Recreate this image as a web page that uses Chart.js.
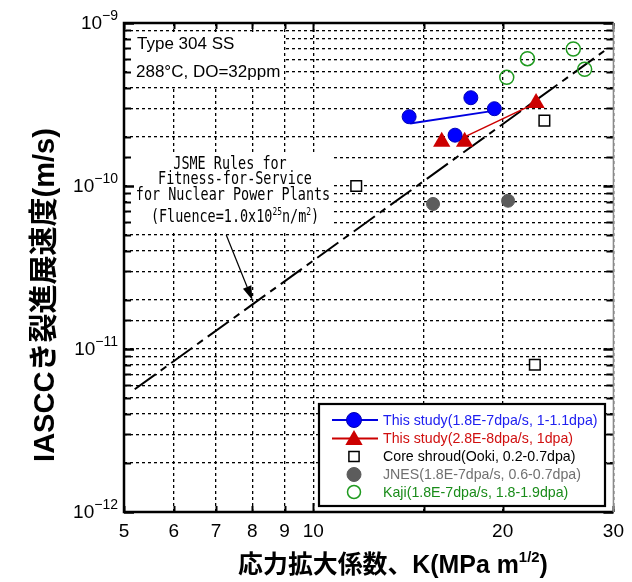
<!DOCTYPE html>
<html><head><meta charset="utf-8">
<script src="https://cdn.jsdelivr.net/npm/chart.js@4.4.0/dist/chart.umd.min.js"></script>
<style>html,body{margin:0;padding:0;background:#fff}canvas{display:block}</style>
</head><body>
<canvas id="c" width="632" height="582"></canvas>
<script>
// ---------------- data ----------------
const xTickValues = [5, 6, 7, 8, 9, 10, 20, 30];
const yMin = 1e-12, yMax = 1e-9;
const blueK = [14.2, 16.8, 17.8, 19.4];
const blueRate = [2.66e-10, 2.05e-10, 3.48e-10, 2.98e-10];
const blueFitK = [14.25, 19.2];
const blueFitRate = [2.42e-10, 2.88e-10];
const redK = [16.0, 17.4, 22.6];
const redRate = [1.87e-10, 1.87e-10, 3.23e-10];
const redFitK = [17.4, 22.1];
const redFitRate = [2.0e-10, 3.1e-10];
const shroudK = [11.7, 23.3, 22.5];
const shroudRate = [1.0e-10, 2.52e-10, 8.0e-12];
const jnesK = [15.5, 20.4];
const jnesRate = [7.76e-11, 8.12e-11];
const kajiK = [20.3, 21.9, 25.9, 27.0];
const kajiRate = [4.64e-10, 6.04e-10, 6.93e-10, 5.2e-10];
const jsmeK = [5.2, 29.0];
const jsmeRate = [5.66e-12, 6.73e-10];
const arrowK = [7.27, 8.0];
const arrowRate = [5.0e-11, 2.0e-11];
const legendLabels = [
  'This study(1.8E-7dpa/s, 1-1.1dpa)',
  'This study(2.8E-8dpa/s, 1dpa)',
  'Core shroud(Ooki, 0.2-0.7dpa)',
  'JNES(1.8E-7dpa/s, 0.6-0.7dpa)',
  'Kaji(1.8E-7dpa/s, 1.8-1.9dpa)'
];
const materialLabel = 'Type 304 SS';
const conditionLabel = '288°C, DO=32ppm';
const jsmeLines = ['JSME Rules for', 'Fitness-for-Service', 'for Nuclear Power Plants'];
const yTitle = 'IASCCき裂進展速度(m/s)';
const xTitle = '応力拡大係数、K(MPa m';
const xTitleSup = '1/2';
// -----------------------------------------------------------------

const pts = (xs, ys) => xs.map((x, i) => ({x: x, y: ys[i]}));
const SANS = '"Liberation Sans", Arial, sans-serif';
const BOLDJP = '"Liberation Sans", "Noto Sans CJK JP", sans-serif';
const MONO = '"DejaVu Sans Mono", "Liberation Mono", monospace';

function drawRich(ctx, segs, x, y, align, sx) {
  sx = sx || 1;
  let total = 0;
  segs.forEach(s => { ctx.font = s.font; s.w = ctx.measureText(s.text).width; total += s.w; });
  const start = align === 'center' ? x - total * sx / 2 : align === 'right' ? x - total * sx : x;
  ctx.save();
  ctx.textAlign = 'left';
  ctx.translate(start, y);
  ctx.scale(sx, 1);
  let cx = 0;
  segs.forEach(s => {
    ctx.font = s.font;
    if (s.color) ctx.fillStyle = s.color;
    ctx.textBaseline = s.baseline || 'middle';
    ctx.fillText(s.text, cx, s.dy || 0);
    cx += s.w;
  });
  ctx.restore();
  return total * sx;
}

function drawMarker(ctx, kind, x, y, r, fill, stroke, lw) {
  ctx.save();
  ctx.beginPath();
  if (kind === 'circle') ctx.arc(x, y, r, 0, Math.PI * 2);
  else if (kind === 'triangle') {
    ctx.moveTo(x, y - r);
    ctx.lineTo(x + r * 0.866, y + r * 0.5);
    ctx.lineTo(x - r * 0.866, y + r * 0.5);
    ctx.closePath();
  } else if (kind === 'rect') {
    const s = r * Math.SQRT1_2;
    ctx.rect(x - s, y - s, 2 * s, 2 * s);
  }
  if (fill) { ctx.fillStyle = fill; ctx.fill(); }
  if (stroke && lw) { ctx.strokeStyle = stroke; ctx.lineWidth = lw; ctx.stroke(); }
  ctx.restore();
}

const legendStyles = [
  {line: '#0000e0', kind: 'circle', r: 7.5, fill: '#0000ff', stroke: '#0000b0', lw: 1, text: '#2020f0'},
  {line: '#cc0000', kind: 'triangle', r: 10, fill: '#cc0000', stroke: null, lw: 0, text: '#d01010'},
  {line: null, kind: 'rect', r: 7.2, fill: '#fff', stroke: '#000', lw: 1.5, text: '#000'},
  {line: null, kind: 'circle', r: 7, fill: '#5c5c5c', stroke: '#5c5c5c', lw: 1, text: '#707070'},
  {line: null, kind: 'circle', r: 6.5, fill: null, stroke: '#1f9a1f', lw: 1.5, text: '#1a8c1a'}
];

const deco = {
  id: 'deco',
  beforeDatasetsDraw(chart) {
    const ctx = chart.ctx;
    ctx.save();
    ctx.fillStyle = '#fff';
    ctx.fillRect(127, 33, 156, 53);
    ctx.fillRect(127, 153, 206, 77);
    ctx.fillStyle = '#000';
    ctx.textAlign = 'left';
    ctx.textBaseline = 'middle';
    ctx.font = '17px ' + SANS;
    ctx.fillText(materialLabel, 137, 44);
    ctx.fillText(conditionLabel, 136, 72);
    ctx.font = '17px ' + MONO;
    const sx = 8.1 / ctx.measureText('M').width;
    const mono = '17px ' + MONO, monoSup = '10px ' + MONO;
    const centers = [230, 235, 233];
    const ys = [165, 180, 196];
    jsmeLines.forEach((t, i) => drawRich(ctx, [{text: t, font: mono}], centers[i], ys[i], 'center', sx));
    drawRich(ctx, [
      {text: '(Fluence=1.0x10', font: mono},
      {text: '25', font: monoSup, dy: -6},
      {text: 'n/m', font: mono},
      {text: '2', font: monoSup, dy: -6},
      {text: ')', font: mono}
    ], 235, 218, 'center', sx);
    ctx.restore();
  },
  afterDatasetsDraw(chart) {
    const ctx = chart.ctx, a = chart.chartArea;
    const xs = chart.scales.x, ys = chart.scales.y;
    ctx.save();
    const x0 = xs.getPixelForValue(arrowK[0]), y0 = ys.getPixelForValue(arrowRate[0]);
    const x1 = xs.getPixelForValue(arrowK[1]), y1 = ys.getPixelForValue(arrowRate[1]);
    const ang = Math.atan2(y1 - y0, x1 - x0);
    const hl = 14, hw = 4.5;
    const bx = x1 - hl * Math.cos(ang), by = y1 - hl * Math.sin(ang);
    ctx.strokeStyle = '#000'; ctx.lineWidth = 1.2;
    ctx.beginPath(); ctx.moveTo(x0, y0); ctx.lineTo(bx, by); ctx.stroke();
    ctx.fillStyle = '#000';
    ctx.beginPath();
    ctx.moveTo(x1, y1);
    ctx.lineTo(bx + hw * Math.sin(ang), by - hw * Math.cos(ang));
    ctx.lineTo(bx - hw * Math.sin(ang), by + hw * Math.cos(ang));
    ctx.closePath(); ctx.fill();

    ctx.strokeStyle = '#000';
    ys.ticks.forEach(t => {
      const y = Math.round(ys.getPixelForValue(t.value)) + 0.5;
      const e = Math.log10(t.value), major = Math.abs(e - Math.round(e)) < 1e-6;
      const L = major ? 10 : 7;
      ctx.lineWidth = major ? 2.5 : 2;
      ctx.beginPath(); ctx.moveTo(a.left, y); ctx.lineTo(a.left + L, y); ctx.stroke();
      ctx.beginPath(); ctx.moveTo(a.right, y); ctx.lineTo(a.right - L, y); ctx.stroke();
    });
    xs.ticks.forEach(t => {
      const x = Math.round(xs.getPixelForValue(t.value)) + 0.5;
      const major = Math.abs(t.value - 10) < 1e-9;
      const L = major ? 9 : 6;
      ctx.lineWidth = 2;
      ctx.beginPath(); ctx.moveTo(x, a.top); ctx.lineTo(x, a.top + L); ctx.stroke();
      ctx.beginPath(); ctx.moveTo(x, a.bottom); ctx.lineTo(x, a.bottom - L); ctx.stroke();
    });
    ctx.lineWidth = 2.5; ctx.strokeStyle = '#000';
    ctx.beginPath();
    ctx.moveTo(a.right, a.top); ctx.lineTo(a.left, a.top); ctx.lineTo(a.left, a.bottom); ctx.lineTo(a.right, a.bottom);
    ctx.stroke();
    ctx.lineWidth = 1.5; ctx.strokeStyle = '#8a8a8a';
    ctx.beginPath(); ctx.moveTo(a.right, a.top); ctx.lineTo(a.right, a.bottom); ctx.stroke();

    const L0 = 319, T0 = 404, LW = 286, LH = 102;
    ctx.fillStyle = '#fff'; ctx.fillRect(L0, T0, LW, LH);
    ctx.lineWidth = 2.2; ctx.strokeStyle = '#000'; ctx.strokeRect(L0, T0, LW, LH);
    const rowY = [420, 438.5, 456.5, 474.5, 492];
    legendLabels.forEach((lab, i) => {
      const s = legendStyles[i], y = rowY[i];
      if (s.line) {
        ctx.strokeStyle = s.line; ctx.lineWidth = 2;
        ctx.beginPath(); ctx.moveTo(332, y); ctx.lineTo(378, y); ctx.stroke();
      }
      drawMarker(ctx, s.kind, 354, y + (s.kind === 'triangle' ? 1.5 : 0), s.r, s.fill, s.stroke, s.lw);
      ctx.fillStyle = s.text; ctx.font = '14.2px ' + SANS;
      ctx.textAlign = 'left'; ctx.textBaseline = 'middle';
      ctx.fillText(lab, 383, y + 1);
    });

    ctx.fillStyle = '#000';
    ys.ticks.forEach(t => {
      const e = Math.log10(t.value);
      if (Math.abs(e - Math.round(e)) > 1e-6) return;
      const y = ys.getPixelForValue(t.value);
      drawRich(ctx, [
        {text: '10', font: '19px ' + SANS, dy: 1},
        {text: '\u2212' + Math.abs(Math.round(e)), font: '14px ' + SANS, dy: -7}
      ], 118, y, 'right', 1);
    });

    ctx.fillStyle = '#000';
    ctx.font = 'bold 24px ' + BOLDJP;
    const wY = ctx.measureText(yTitle).width;
    const fy = 24 * 334 / wY;
    ctx.save();
    ctx.translate(46, 295);
    ctx.rotate(-Math.PI / 2);
    ctx.font = 'bold ' + fy.toFixed(2) + 'px ' + BOLDJP;
    ctx.textAlign = 'center'; ctx.textBaseline = 'middle';
    ctx.fillText(yTitle, 0, 0);
    ctx.restore();

    const segs = (f) => [
      {text: xTitle, font: 'bold ' + f + 'px ' + BOLDJP},
      {text: xTitleSup, font: 'bold ' + (f * 0.6) + 'px ' + BOLDJP, dy: -f * 0.33},
      {text: ')', font: 'bold ' + f + 'px ' + BOLDJP}
    ];
    let tot = 0;
    segs(24).forEach(s => { ctx.font = s.font; tot += ctx.measureText(s.text).width; });
    const fx = 24 * 310 / tot;
    drawRich(ctx, segs(fx), 393, 566, 'center', 1);
    ctx.restore();
  }
};

const ds = [
  {data: pts(blueK, blueRate), pointStyle: 'circle', pointRadius: 7, backgroundColor: '#0000ff', borderColor: '#0000b8', borderWidth: 1, showLine: false},
  {data: pts(blueFitK, blueFitRate), showLine: true, pointRadius: 0, borderColor: '#0000e0', borderWidth: 2},
  {data: pts(redK, redRate), pointStyle: 'triangle', pointRadius: 10, backgroundColor: '#cc0000', borderColor: '#cc0000', borderWidth: 0, showLine: false},
  {data: pts(redFitK, redFitRate), showLine: true, pointRadius: 0, borderColor: '#cc0000', borderWidth: 1.5},
  {data: pts(shroudK, shroudRate), pointStyle: 'rect', pointRadius: 7.5, backgroundColor: '#fff', borderColor: '#000', borderWidth: 1.5, showLine: false},
  {data: pts(jnesK, jnesRate), pointStyle: 'circle', pointRadius: 6.5, backgroundColor: '#5c5c5c', borderColor: '#5c5c5c', borderWidth: 1, showLine: false},
  {data: pts(kajiK, kajiRate), pointStyle: 'circle', pointRadius: 7, backgroundColor: 'rgba(0,0,0,0)', borderColor: '#1f9a1f', borderWidth: 1.5, showLine: false},
  {data: pts(jsmeK, jsmeRate), showLine: true, pointRadius: 0, borderColor: '#000', borderWidth: 2, borderDash: [26, 6, 7, 6]}
];

new Chart(document.getElementById('c'), {
  type: 'scatter',
  data: {datasets: ds},
  options: {
    responsive: false,
    animation: false,
    devicePixelRatio: 1,
    layout: {padding: {left: 0, top: 23, right: 16, bottom: 0}},
    plugins: {legend: {display: false}, tooltip: {enabled: false}},
    elements: {line: {tension: 0}},
    scales: {
      x: {
        type: 'logarithmic', min: 5, max: 30,
        afterFit: s => { s.height = 70; },
        grid: {color: '#000', lineWidth: 1.3, drawTicks: false},
        border: {display: false, dash: [3, 3]},
        ticks: {
          autoSkip: false, maxRotation: 0, padding: 8, color: '#000',
          font: {size: 19, family: SANS},
          callback: v => xTickValues.includes(Math.round(v)) && Math.abs(v - Math.round(v)) < 1e-6 ? String(Math.round(v)) : ''
        }
      },
      y: {
        type: 'logarithmic', min: yMin, max: yMax,
        afterFit: s => { s.width = 124; },
        grid: {color: '#000', lineWidth: 1.3, drawTicks: false},
        border: {display: false, dash: [3, 3]},
        ticks: {display: false}
      }
    }
  },
  plugins: [deco]
});
</script>
</body></html>
